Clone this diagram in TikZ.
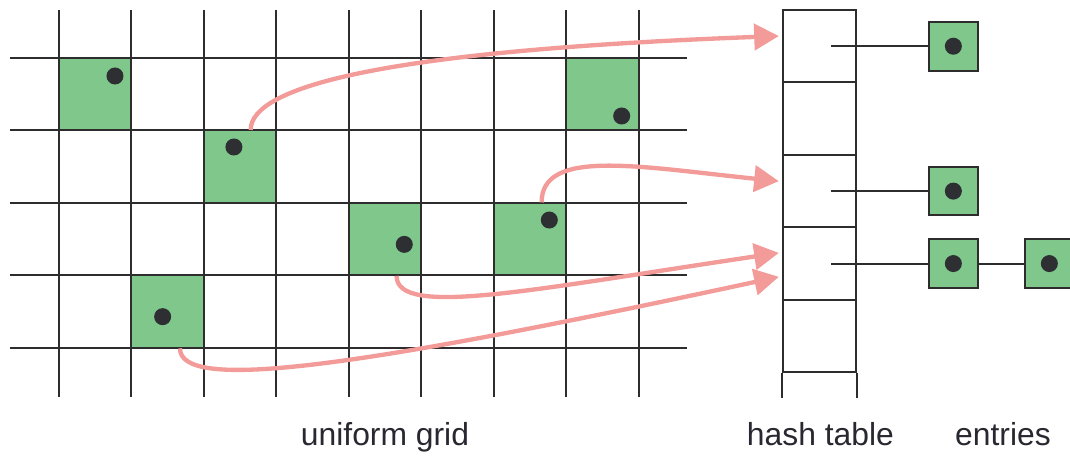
\documentclass[tikz,border=0pt]{standalone}
\usepackage{fontspec}
\setmainfont{Liberation Sans}
\usepackage{xcolor}
\usetikzlibrary{arrows.meta}

\definecolor{cellgreen}{RGB}{128,199,140}
\definecolor{arrowpink}{RGB}{242,155,152}
\definecolor{linegray}{RGB}{45,45,45}
\definecolor{dotgray}{RGB}{45,47,51}
\definecolor{textgray}{RGB}{40,40,48}

\begin{document}
\begin{tikzpicture}[
    gridline/.style={linegray, line width=0.8pt},
    cell/.style={fill=cellgreen, minimum size=1cm, inner sep=0pt},
    dot/.style={circle, fill=dotgray, minimum size=0.235cm, inner sep=0pt},
    slot/.style={draw=linegray, line width=0.8pt, minimum size=1cm, inner sep=0pt},
    entry/.style={draw=linegray, line width=0.8pt, fill=cellgreen, minimum size=0.672cm, inner sep=0pt},
    hasharrow/.style={arrowpink, line width=1.7pt, -{Triangle[length=3.4mm,width=3.6mm]}},
    caption/.style={textgray, anchor=base, font=\fontsize{12.5}{15}\selectfont}
  ]
  \useasboundingbox (-0.814,0.801) rectangle (13.955,-5.493);
  % Occupied cells
  \node[cell] (c1) at (0.5,-0.5) {};
  \node[cell] (c2) at (2.5,-1.5) {};
  \node[cell] (c3) at (7.5,-0.5) {};
  \node[cell] (c4) at (4.5,-2.5) {};
  \node[cell] (c5) at (6.5,-2.5) {};
  \node[cell] (c6) at (1.5,-3.5) {};
  % Uniform grid
  \foreach \x in {0,...,8}
    \draw[gridline] (\x,0.663) -- (\x,-4.68);
  \foreach \y in {0,...,4}
    \draw[gridline] (-0.676,-\y) -- (8.668,-\y);
  % Points
  \node[dot] (d1) at (0.773,-0.248) {};
  \node[dot] (d2) at (2.415,-1.228) {};
  \node[dot] (d3) at (7.767,-0.800) {};
  \node[dot] (d4) at (4.766,-2.572) {};
  \node[dot] (d5) at (6.768,-2.236) {};
  \node[dot] (d6) at (1.431,-3.570) {};
  % Hash table
  \foreach \k in {0,...,4}
    \node[slot] (h\k) at (10.5,{0.163-\k}) {};
  \draw[gridline] (h4.south west) -- ++(0,-0.345) (h4.south east) -- ++(0,-0.345);
  % Entries
  \node[entry] (e1) at (12.345,0.163) {};
  \node[entry] (e2) at (12.345,-1.837) {};
  \node[entry] (e3) at (12.345,-2.837) {};
  \node[entry] (e4) at (13.67,-2.837) {};
  \foreach \e in {1,...,4}
    \node[dot] (ed\e) at (e\e) {};
  \draw[gridline] ([xshift=1.56mm]h0.center) -- (e1.west);
  \draw[gridline] ([xshift=1.56mm]h2.center) -- (e2.west);
  \draw[gridline] ([xshift=1.56mm]h3.center) -- (e3.west);
  \draw[gridline] (e3.east) -- (e4.west);
  % Hashing
  \draw[hasharrow] ([xshift=1.46mm]c2.north) .. controls +(0,0.6) and +(-5.44,-0.2) .. ([shift={(-0.5mm,1.4mm)}]h0.west);
  \draw[hasharrow] ([xshift=1.62mm]c5.north) .. controls +(0,0.75) and +(-1.94,0.2) .. ([shift={(-0.5mm,1.37mm)}]h2.west);
  \draw[hasharrow] ([xshift=1.6mm]c4.south) .. controls +(0,-0.58) and +(-3.44,-0.51) .. ([shift={(-0.5mm,1.47mm)}]h3.west);
  \draw[hasharrow] ([xshift=1.7mm]c6.south) .. controls +(0,-0.6) and +(-5.94,-1.28) .. ([shift={(-0.5mm,-1.83mm)}]h3.west);
  % Labels
  \node[caption] (lgrid) at (4.5,-5.355) {uniform grid};
  \node[caption] (ltable) at (10.51,-5.355) {hash table};
  \node[caption] (lentries) at (13.03,-5.355) {entries};
\end{tikzpicture}
\end{document}
